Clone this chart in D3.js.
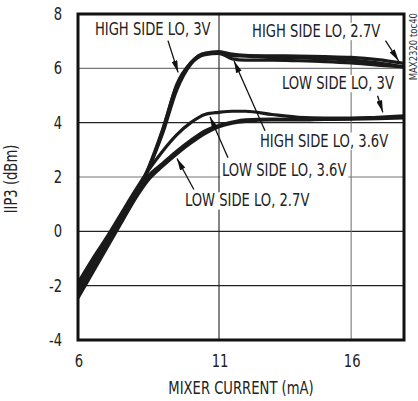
<html>
<script src="https://d3js.org/d3.v7.min.js"></script>
<style>
  body { margin: 0; background: white; }
  text { font-family: "Liberation Sans Narrow", "Arial Narrow", "DejaVu Sans Condensed", sans-serif; fill: #222; }
</style>
<body>
<svg width="418" height="401"></svg>
<script>
// mixer current (mA), shared by every trace
var current = [6, 6.5, 7, 7.5, 8, 8.5, 9, 9.5, 10, 10.5, 11, 11.5, 12, 13, 14, 15, 16, 17, 18];

// IIP3 (dBm)
var highSide27 = [-2.4, -1.5, -0.6, 0.3, 1.2, 2.3, 3.6, 5.2, 6.15, 6.5, 6.55, 6.47, 6.45, 6.4, 6.38, 6.35, 6.3, 6.2, 6.05];
var highSide30 = [-2.1, -1.2, -0.4, 0.4, 1.3, 2.3, 3.7, 5.4, 6.2, 6.55, 6.62, 6.52, 6.48, 6.46, 6.45, 6.43, 6.4, 6.32, 6.18];
var highSide36 = [-2.2, -1.3, -0.45, 0.4, 1.25, 2.35, 3.75, 5.35, 6.2, 6.55, 6.55, 6.35, 6.3, 6.3, 6.28, 6.25, 6.2, 6.12, 6.05];
var lowSide27 = [-2.45, -1.55, -0.65, 0.25, 1.15, 1.9, 2.4, 2.85, 3.25, 3.6, 3.85, 3.98, 4.05, 4.1, 4.1, 4.12, 4.13, 4.15, 4.18];
var lowSide30 = [-2.05, -1.2, -0.35, 0.5, 1.35, 2.05, 2.5, 2.95, 3.35, 3.7, 3.9, 4.02, 4.1, 4.13, 4.12, 4.12, 4.15, 4.2, 4.25];
var lowSide36 = [-1.9, -1.05, -0.25, 0.6, 1.45, 2.25, 2.95, 3.55, 4.0, 4.3, 4.38, 4.42, 4.42, 4.3, 4.2, 4.17, 4.17, 4.18, 4.2];

var xTicks = [6, 11, 16];
var yTicks = [-4, -2, 0, 2, 4, 6, 8];
var xGrid = [11, 16];
var yGrid = [-2, 0, 2, 4, 6];

// callouts: label, text anchor point, arrow start, arrow tip (data units)
var callouts = [
  { label: "HIGH SIDE LO, 3V",   tx: 6.6,   ty: 7.23, from: [9.19, 7.02], to: [9.55, 5.85] },
  { label: "HIGH SIDE LO, 2.7V", tx: 12.25, ty: 7.16, from: [17.3, 7.02], to: [17.8, 6.27] },
  { label: "LOW SIDE LO, 3V",    tx: 13.38, ty: 5.24, from: [17.0, 4.99], to: [17.2, 4.38] },
  { label: "HIGH SIDE LO, 3.6V", tx: 12.55, ty: 3.12, from: [12.74, 3.7], to: [11.57, 6.27] },
  { label: "LOW SIDE LO, 3.6V",  tx: 11.11, ty: 2.02, from: [11.34, 2.71], to: [10.68, 4.22] },
  { label: "LOW SIDE LO, 2.7V",  tx: 9.79,  ty: 0.92, from: [10.11, 1.54], to: [9.51, 2.68] }
];

var series = [highSide27, highSide30, highSide36, lowSide27, lowSide30, lowSide36];

{
  const svg = d3.select("svg");
  const L = 78, R = 404, T = 14, B = 340;
  const narrow = "scale(0.86,1)";   // the original type is a tall condensed face

  // the printed x axis is slightly uneven: 6 sits at the frame edge
  const x = d3.scaleLinear().domain([6, 11, 18]).range([L, 219, R]);
  const y = d3.scaleLinear().domain([-4, 8]).range([B, T]);

  // grid
  svg.append("g").selectAll("line")
    .data(yGrid).enter().append("line")
      .attr("x1", L).attr("x2", R)
      .attr("y1", d => y(d)).attr("y2", d => y(d))
      .style("stroke", d => (d == 6 || d == 2) ? "#777" : "#222")
      .style("stroke-width", 1.1);
  svg.append("g").selectAll("line")
    .data(xGrid).enter().append("line")
      .attr("y1", T).attr("y2", B)
      .attr("x1", d => x(d)).attr("x2", d => x(d))
      .style("stroke", d => d == 16 ? "#777" : "#222")
      .style("stroke-width", 1.1);

  // traces
  svg.append("clipPath").attr("id", "plot")
    .append("rect").attr("x", L).attr("y", T).attr("width", R - L).attr("height", B - T);

  const line = d3.line()
    .x((d, i) => x(current[i]))
    .y(d => y(d))
    .curve(d3.curveMonotoneX);

  svg.append("g").attr("clip-path", "url(#plot)")
    .selectAll("path")
    .data(series).enter().append("path")
      .attr("d", line)
      .style("fill", "none")
      .style("stroke", "#1a1a1a")
      .style("stroke-width", 3.2)
      .style("stroke-linejoin", "round");

  // callout labels with white boxes, then arrows
  svg.append("defs").append("marker")
    .attr("id", "head")
    .attr("markerUnits", "userSpaceOnUse")
    .attr("viewBox", "0 0 12 6")
    .attr("refX", 12).attr("refY", 3)
    .attr("markerWidth", 12).attr("markerHeight", 6)
    .attr("orient", "auto")
    .append("path").attr("d", "M0,0 L12,3 L0,6 Z").style("fill", "#111");

  const notes = svg.append("g").selectAll("g")
    .data(callouts).enter().append("g");
  const boxes = notes.append("g")
    .attr("transform", d => "translate(" + x(d.tx) + "," + y(d.ty) + ")" + narrow);
  boxes.append("text")
    .style("font-size", "17px")
    .text(d => d.label);
  boxes.each(function(d) {
    const b = d3.select(this).select("text").node().getBBox();
    d3.select(this).insert("rect", "text")
      .attr("x", b.x - 2).attr("y", b.y + 2)
      .attr("width", b.width + 4).attr("height", b.height - 3)
      .style("fill", "white");
  });
  notes.append("line")
    .attr("x1", d => x(d.from[0])).attr("y1", d => y(d.from[1]))
    .attr("x2", d => x(d.to[0])).attr("y2", d => y(d.to[1]))
    .style("stroke", "#111")
    .style("stroke-width", 1.3)
    .attr("marker-end", "url(#head)");

  // frame
  svg.append("rect")
    .attr("x", L).attr("y", T)
    .attr("width", R - L).attr("height", B - T)
    .style("fill", "none").style("stroke", "#111").style("stroke-width", 3);

  // tick labels
  svg.append("g").selectAll("text")
    .data(xTicks).enter().append("text")
      .attr("transform", d => "translate(" + (x(d) + 1) + ",367)" + narrow)
      .style("text-anchor", "middle")
      .style("font-size", "17px")
      .text(d => d);
  svg.append("g").selectAll("text")
    .data(yTicks).enter().append("text")
      .attr("transform", d => "translate(62," + y(d) + ")" + narrow)
      .attr("dy", "0.36em")
      .style("text-anchor", "end")
      .style("font-size", "17px")
      .text(d => d);

  // axis titles
  svg.append("text")
    .attr("transform", "translate(" + ((L + R) / 2) + ",394)" + narrow)
    .style("text-anchor", "middle")
    .style("font-size", "17px")
    .text("MIXER CURRENT (mA)");
  svg.append("text")
    .attr("transform", "translate(17," + ((T + B) / 2 + 2) + ")rotate(-90)" + narrow)
    .style("text-anchor", "middle")
    .style("font-size", "17px")
    .text("IIP3 (dBm)");

  // figure tag
  svg.append("text")
    .attr("transform", "translate(417,13)rotate(-90)" + narrow)
    .style("text-anchor", "end")
    .style("font-size", "11px")
    .style("fill", "#333")
    .text("MAX2320 toc40");
}
</script>
</body>
</html>
